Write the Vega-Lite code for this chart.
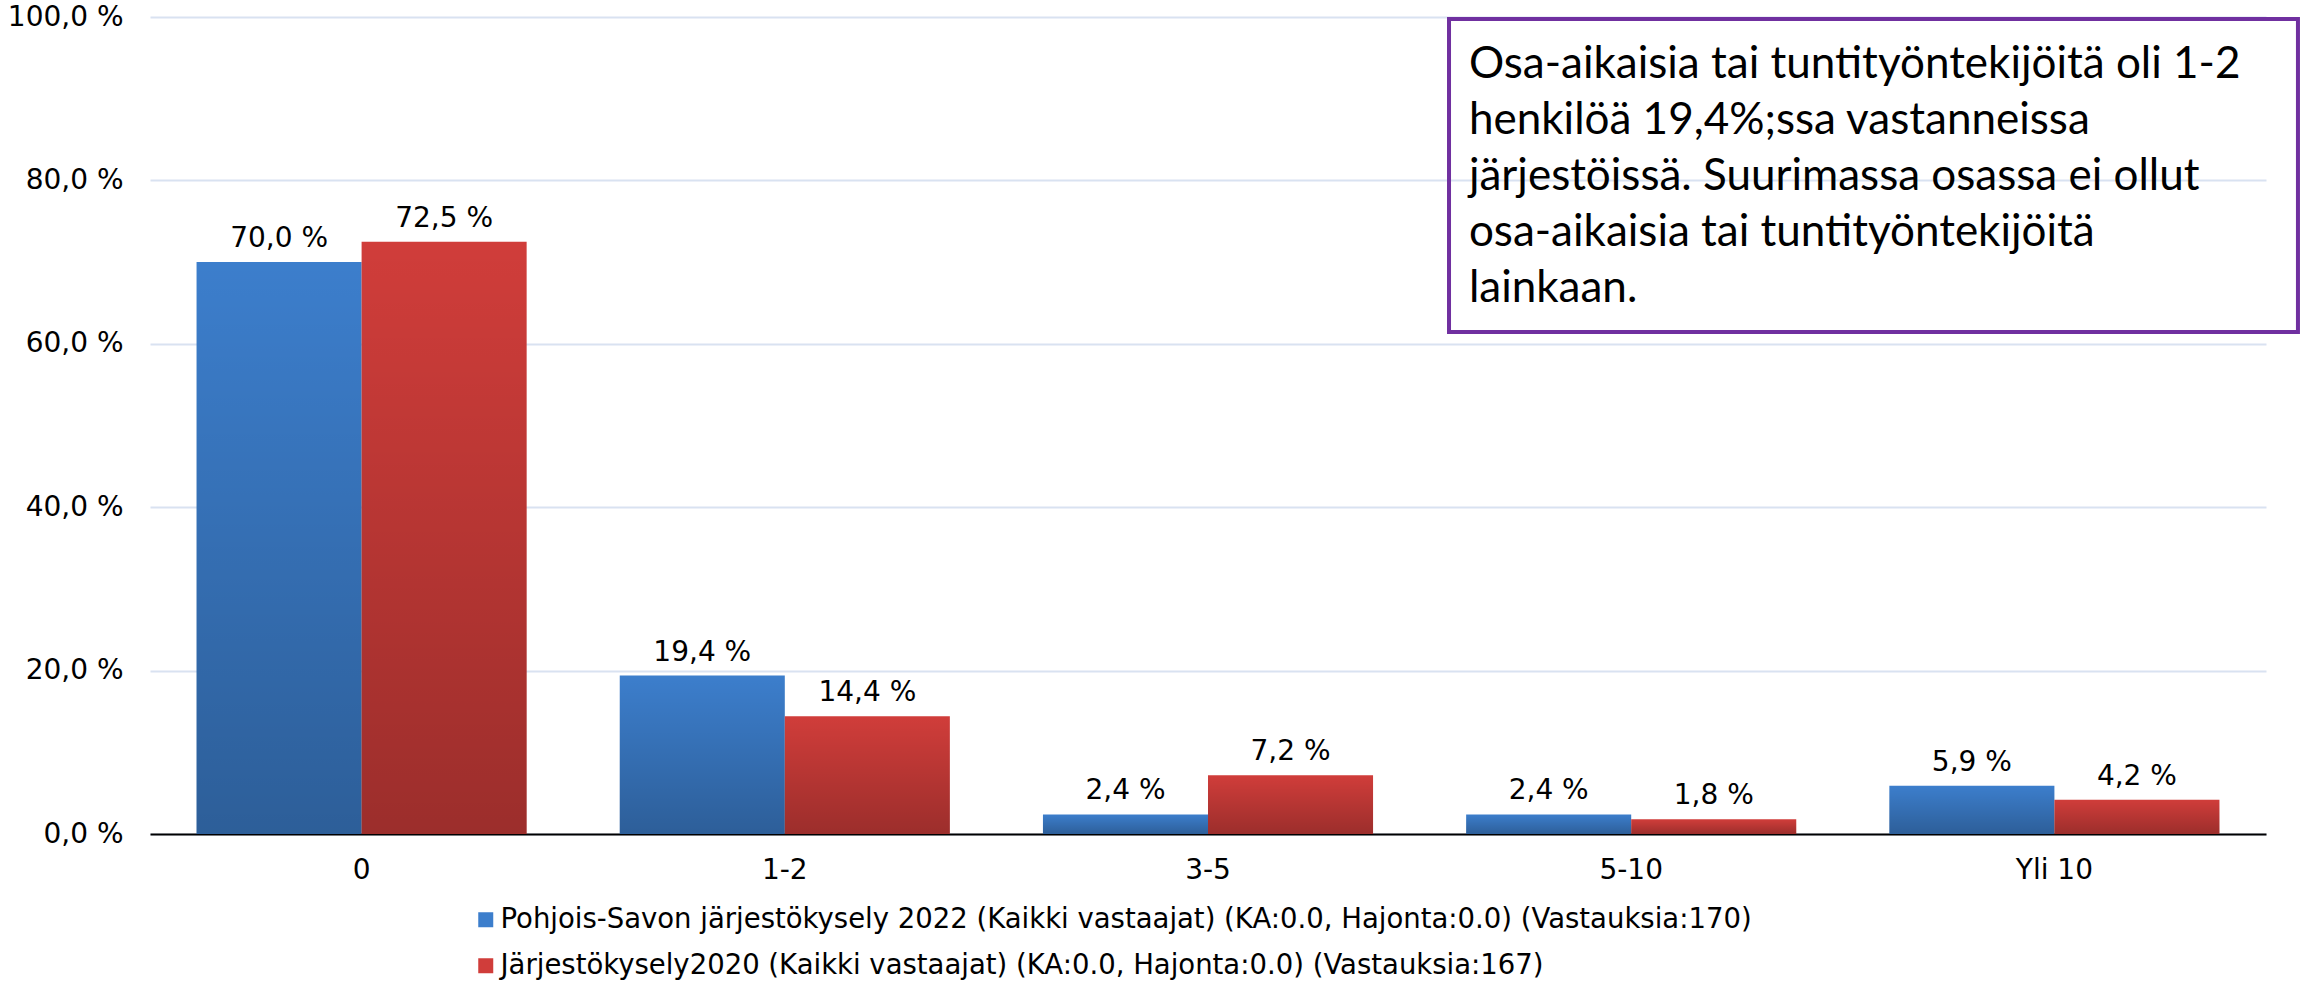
{
  "$schema": "https://vega.github.io/schema/vega-lite/v6.json",
  "autosize": {"type": "none"},
  "padding": {"left": 150, "top": 17, "right": 36, "bottom": 147},
  "width": 2116,
  "height": 817,
  "background": "white",
  "config": {
    "view": {"stroke": null},
    "axis": {"labelFont": "DejaVu Sans", "labelFontSize": 28, "labelColor": "#000000", "titleColor": "#000000"},
    "legend": {"labelFont": "DejaVu Sans", "labelFontSize": 27.5, "labelColor": "#000000"}
  },
  "datasets": {
    "bars": [
      {"cat": "0", "series": "Pohjois-Savon järjestökysely 2022 (Kaikki vastaajat) (KA:0.0, Hajonta:0.0) (Vastauksia:170)", "value": 70.0, "label": "70,0 %"},
      {"cat": "0", "series": "Järjestökysely2020 (Kaikki vastaajat) (KA:0.0, Hajonta:0.0) (Vastauksia:167)", "value": 72.5, "label": "72,5 %"},
      {"cat": "1-2", "series": "Pohjois-Savon järjestökysely 2022 (Kaikki vastaajat) (KA:0.0, Hajonta:0.0) (Vastauksia:170)", "value": 19.4, "label": "19,4 %"},
      {"cat": "1-2", "series": "Järjestökysely2020 (Kaikki vastaajat) (KA:0.0, Hajonta:0.0) (Vastauksia:167)", "value": 14.4, "label": "14,4 %"},
      {"cat": "3-5", "series": "Pohjois-Savon järjestökysely 2022 (Kaikki vastaajat) (KA:0.0, Hajonta:0.0) (Vastauksia:170)", "value": 2.4, "label": "2,4 %"},
      {"cat": "3-5", "series": "Järjestökysely2020 (Kaikki vastaajat) (KA:0.0, Hajonta:0.0) (Vastauksia:167)", "value": 7.2, "label": "7,2 %"},
      {"cat": "5-10", "series": "Pohjois-Savon järjestökysely 2022 (Kaikki vastaajat) (KA:0.0, Hajonta:0.0) (Vastauksia:170)", "value": 2.4, "label": "2,4 %"},
      {"cat": "5-10", "series": "Järjestökysely2020 (Kaikki vastaajat) (KA:0.0, Hajonta:0.0) (Vastauksia:167)", "value": 1.8, "label": "1,8 %"},
      {"cat": "Yli 10", "series": "Pohjois-Savon järjestökysely 2022 (Kaikki vastaajat) (KA:0.0, Hajonta:0.0) (Vastauksia:170)", "value": 5.9, "label": "5,9 %"},
      {"cat": "Yli 10", "series": "Järjestökysely2020 (Kaikki vastaajat) (KA:0.0, Hajonta:0.0) (Vastauksia:167)", "value": 4.2, "label": "4,2 %"}
    ],
    "note": [
      {"x": 0.6139, "x2": 1.0151, "y": 99.76, "y2": 61.44, "tx": 0.6233, "ty": 92.5,
       "text": ["Osa-aikaisia tai tuntityöntekijöitä oli 1-2", "henkilöä 19,4%;ssa vastanneissa", "järjestöissä. Suurimassa osassa ei ollut", "osa-aikaisia tai tuntityöntekijöitä", "lainkaan."]}
    ]
  },
  "layer": [
    {
      "data": {"name": "bars"},
      "encoding": {
        "x": {"field": "cat", "type": "nominal", "sort": ["0", "1-2", "3-5", "5-10", "Yli 10"],
              "scale": {"paddingInner": 0.22, "paddingOuter": 0.11},
              "axis": {"title": null, "labelAngle": 0, "ticks": false, "domainColor": "#000000", "domainWidth": 2, "labelPadding": 22, "grid": false}},
        "xOffset": {"field": "series", "type": "nominal",
                    "sort": ["Pohjois-Savon järjestökysely 2022 (Kaikki vastaajat) (KA:0.0, Hajonta:0.0) (Vastauksia:170)", "Järjestökysely2020 (Kaikki vastaajat) (KA:0.0, Hajonta:0.0) (Vastauksia:167)"],
                    "scale": {"paddingInner": 0, "paddingOuter": 0}},
        "y": {"field": "value", "type": "quantitative", "scale": {"domain": [0, 100], "nice": false},
              "axis": {"title": null, "values": [0, 20, 40, 60, 80, 100], "domain": false, "ticks": false,
                       "gridColor": "#D9E2F1", "gridWidth": 2, "labelPadding": 27,
                       "labelExpr": "replace(format(datum.value, '.1f'), '.', ',') + ' %'"}}
      },
      "layer": [
        {
          "mark": {"type": "bar"},
          "encoding": {
            "color": {"field": "series", "type": "nominal",
                      "scale": {"domain": ["Pohjois-Savon järjestökysely 2022 (Kaikki vastaajat) (KA:0.0, Hajonta:0.0) (Vastauksia:170)", "Järjestökysely2020 (Kaikki vastaajat) (KA:0.0, Hajonta:0.0) (Vastauksia:167)"],
                                "range": ["#3C7ECC", "#D03D3A"]},
                      "legend": {"title": null, "orient": "none", "legendX": 322, "legendY": 889, "direction": "vertical",
                                 "symbolType": "square", "symbolSize": 225, "symbolStrokeWidth": 0, "labelOffset": 1,
                                 "rowPadding": 17, "padding": 0, "labelLimit": 2000, "symbolOpacity": 1}}
          }
        },
        {
          "mark": {"type": "bar",
                   "fill": {"gradient": "linear", "x1": 0, "y1": 0, "x2": 0, "y2": 1,
                            "stops": [{"offset": 0, "color": "rgba(0,0,0,0)"}, {"offset": 1, "color": "rgba(0,0,0,0.25)"}]}}
        },
        {
          "mark": {"type": "text", "font": "DejaVu Sans", "fontSize": 28, "color": "#000000", "baseline": "alphabetic", "dy": -15},
          "encoding": {"text": {"field": "label", "type": "nominal"}}
        }
      ]
    },
    {
      "data": {"name": "note"},
      "layer": [
        {
          "mark": {"type": "rect", "fill": null, "fillOpacity": 0, "stroke": "#7030A0", "strokeWidth": 4, "clip": false},
          "encoding": {
            "x": {"field": "x", "type": "quantitative", "scale": {"domain": [0, 1], "nice": false, "zero": false}, "axis": null},
            "x2": {"field": "x2"},
            "y": {"field": "y", "type": "quantitative", "scale": {"domain": [0, 100], "nice": false}, "axis": null},
            "y2": {"field": "y2"}
          }
        },
        {
          "mark": {"type": "text", "font": "Lato", "fontSize": 44, "color": "#000000", "align": "left", "baseline": "alphabetic", "lineHeight": 56},
          "encoding": {
            "x": {"field": "tx", "type": "quantitative", "scale": {"domain": [0, 1], "nice": false, "zero": false}, "axis": null},
            "y": {"field": "ty", "type": "quantitative", "scale": {"domain": [0, 100], "nice": false}, "axis": null},
            "text": {"field": "text", "type": "nominal"}
          }
        }
      ]
    }
  ],
  "resolve": {"scale": {"x": "independent", "y": "independent"}, "axis": {"y": "independent"}}
}
